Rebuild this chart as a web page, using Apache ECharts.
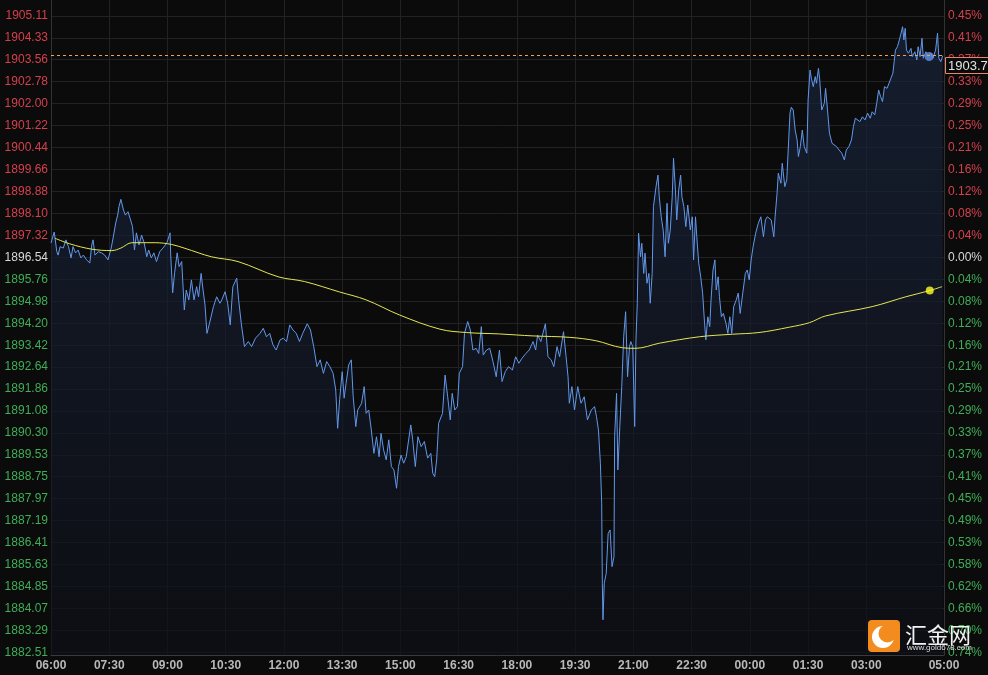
<!DOCTYPE html>
<html><head><meta charset="utf-8">
<script src="https://cdn.jsdelivr.net/npm/echarts@6/dist/echarts.min.js"></script>
<style>html,body{margin:0;padding:0;background:#0b0b0c;}#c{width:988px;height:675px;}</style>
</head><body><div id="c"></div><script>
// ---- data (time = minutes since 06:00) ----
const basePrice = 1896.54;
const lastPrice = 1903.7;
const priceTicks = [1905.11,1904.33,1903.56,1902.78,1902.00,1901.22,1900.44,1899.66,1898.88,1898.10,1897.32,1896.54,1895.76,1894.98,1894.20,1893.42,1892.64,1891.86,1891.08,1890.30,1889.53,1888.75,1887.97,1887.19,1886.41,1885.63,1884.85,1884.07,1883.29,1882.51];
const pctTicks = ['0.45%','0.41%','0.37%','0.33%','0.29%','0.25%','0.21%','0.16%','0.12%','0.08%','0.04%','0.00%','0.04%','0.08%','0.12%','0.16%','0.21%','0.25%','0.29%','0.33%','0.37%','0.41%','0.45%','0.49%','0.53%','0.58%','0.62%','0.66%','0.70%','0.74%'];
const timeTicks = [0,90,180,270,360,450,540,630,720,810,900,990,1080,1170,1260,1380];
const timeLabels = ['06:00','07:30','09:00','10:30','12:00','13:30','15:00','16:30','18:00','19:30','21:00','22:30','00:00','01:30','03:00','05:00'];

const morning = [[0,1897.05],[5,1897.44],[9,1896.74],[11,1896.62],[14,1896.92],[19,1896.87],[23,1897.16],[27,1896.92],[31,1896.52],[34,1896.92],[38,1896.70],[42,1896.80],[46,1896.52],[50,1896.62],[55,1896.45],[60,1896.34],[63,1896.98],[65,1897.16],[68,1896.62],[73,1896.74],[78,1896.70],[83,1896.62],[88,1896.45],[93,1896.87],[96,1897.23],[100,1897.76],[103,1898.04],[105,1898.34],[108,1898.60],[112,1898.22],[115,1898.04],[119,1898.16],[123,1897.87],[126,1897.63],[129,1896.80],[132,1897.41],[136,1896.98],[140,1897.33],[144,1897.05],[148,1896.56],[151,1896.80],[155,1896.52],[159,1896.70],[163,1896.39],[168,1896.74],[173,1896.87],[179,1897.05],[184,1897.41],[185,1896.62],[188,1895.28],[191,1895.99],[195,1896.70],[198,1896.21],[202,1896.39],[206,1894.67],[209,1895.38],[213,1895.03],[217,1895.74],[221,1895.03],[225,1895.50],[228,1895.14],[232,1895.97],[235,1895.38],[238,1894.85],[241,1893.84],[245,1894.20],[251,1894.79],[256,1895.14],[261,1894.91],[264,1895.03],[269,1895.32],[273,1894.91],[277,1894.14],[281,1895.50],[287,1895.80],[290,1895.03],[294,1894.20],[299,1893.37],[305,1893.55],[310,1893.37],[316,1893.67],[323,1893.84],[328,1894.02],[333,1893.72],[338,1893.84],[343,1893.43],[348,1893.25],[354,1893.61],[359,1893.67],[364,1893.55],[369,1894.14],[374,1893.96],[379,1893.84],[384,1893.55]];
const afternoon = [[389,1893.84],[396,1894.18],[401,1893.96],[406,1893.37],[411,1892.66],[416,1892.90],[421,1892.42],[426,1892.84],[431,1892.66],[436,1892.42],[440,1891.83],[443,1890.47],[446,1891.48],[450,1892.48],[453,1891.54],[456,1892.07],[460,1892.72],[464,1892.90],[467,1891.59],[471,1890.53],[474,1891.12],[480,1891.36],[484,1891.95],[487,1891.00],[491,1891.12],[495,1890.41],[499,1889.58],[503,1890.17],[507,1889.46],[510,1890.29],[514,1889.70],[518,1889.35],[522,1890.06],[526,1889.11],[530,1888.99],[534,1888.34],[537,1889.11],[541,1889.52],[545,1889.23],[549,1889.46],[556,1890.59],[559,1890.06],[563,1889.11],[567,1890.17],[572,1889.82],[577,1890.00],[582,1889.41],[587,1889.58],[590,1888.87],[593,1888.75],[596,1889.35],[599,1890.65],[605,1891.00],[609,1892.36],[613,1891.59],[617,1890.77],[620,1891.71],[624,1891.12],[628,1891.24],[631,1892.42],[636,1892.66],[639,1893.84],[644,1894.26],[648,1893.96],[652,1893.25],[657,1893.31],[661,1893.13],[665,1894.08],[668,1893.07],[673,1893.25],[678,1893.31],[683,1892.84],[688,1892.30],[693,1893.25],[697,1892.13],[702,1892.48],[707,1892.66],[713,1892.54],[718,1893.01],[723,1892.78],[728,1892.96],[734,1893.13],[739,1893.25],[745,1893.55],[749,1893.25],[752,1893.78],[757,1893.55],[764,1894.18],[768,1893.01],[773,1892.90],[777,1892.66],[782,1893.37],[786,1893.01]];
const evening = [[792,1893.90],[796,1893.01],[799,1892.30],[801,1891.36],[805,1891.95],[809,1891.12],[814,1891.95],[819,1891.36],[824,1891.59],[829,1890.77],[835,1891.12],[840,1891.24],[843,1890.88],[846,1890.41],[849,1889.23],[851,1887.81],[852,1884.97],[853,1883.67],[855,1884.97],[858,1885.32],[861,1886.74],[864,1886.86],[867,1885.56],[870,1885.91],[871,1890.17],[874,1891.71],[876,1888.99],[879,1890.53],[882,1891.95],[885,1893.72],[888,1894.61],[891,1892.30],[894,1893.37],[896,1893.55],[899,1893.37],[902,1890.53],[904,1893.61],[906,1894.91],[908,1897.40],[911,1896.56],[913,1897.04],[916,1895.97],[918,1896.69],[921,1895.62],[924,1895.97],[926,1894.91],[929,1895.97],[931,1898.34],[935,1899.05],[938,1899.46],[940,1898.69],[943,1897.98],[946,1897.51],[949,1896.56],[952,1898.46],[954,1897.04],[957,1897.51],[960,1898.69],[962,1900.06],[965,1898.93],[967,1897.87],[970,1898.93],[973,1899.46],[975,1898.69],[978,1898.34],[981,1897.63],[984,1898.40],[988,1897.51],[991,1897.98],[993,1896.45],[996,1897.98],[998,1897.27],[1001,1896.33],[1004,1895.85],[1007,1895.27],[1010,1894.20],[1012,1893.61],[1015,1894.43],[1018,1894.08],[1020,1895.03],[1023,1896.09],[1026,1896.45],[1028,1895.38],[1031,1895.85],[1033,1895.14],[1036,1894.43],[1039,1894.55],[1043,1894.20],[1046,1893.84],[1049,1894.43],[1052,1893.84],[1055,1894.79],[1059,1895.03],[1062,1895.27],[1065,1894.55]];
const night = [[1069,1895.27],[1073,1895.97],[1076,1896.09],[1079,1895.74],[1082,1896.45],[1085,1896.92],[1089,1897.40],[1093,1897.75],[1097,1897.98],[1101,1897.27],[1104,1897.87],[1107,1897.98],[1113,1897.87],[1117,1897.27],[1119,1897.98],[1122,1898.82],[1124,1899.53],[1128,1899.17],[1130,1899.88],[1134,1899.05],[1137,1899.29],[1140,1900.71],[1142,1901.66],[1144,1901.87],[1147,1901.77],[1150,1901.06],[1153,1900.71],[1155,1900.12],[1158,1900.47],[1161,1901.06],[1164,1900.47],[1168,1900.24],[1170,1902.13],[1173,1903.19],[1175,1902.90],[1178,1902.60],[1181,1902.96],[1183,1902.72],[1186,1903.25],[1188,1902.84],[1191,1901.77],[1195,1902.01],[1197,1902.54],[1200,1901.77],[1203,1900.95],[1207,1900.59],[1210,1900.65],[1214,1900.47],[1218,1900.35],[1222,1900.24],[1226,1900.00],[1229,1900.35],[1233,1900.47],[1237,1900.71],[1240,1901.18],[1243,1901.48],[1246,1901.53],[1250,1901.36],[1254,1901.53],[1258,1901.42],[1262,1901.66],[1266,1901.48],[1269,1901.71],[1273,1901.60],[1276,1902.01],[1279,1902.48],[1282,1902.25],[1285,1902.07],[1288,1902.60],[1292,1902.54],[1295,1902.48],[1298,1902.90],[1301,1903.08],[1303,1903.49],[1305,1903.90],[1308,1904.02],[1311,1904.26],[1313,1904.44],[1316,1904.73],[1318,1904.26],[1320,1904.67],[1322,1903.90],[1325,1903.79],[1329,1903.96],[1331,1903.67],[1335,1903.84],[1338,1903.55],[1340,1904.02],[1343,1903.67],[1346,1904.32],[1348,1903.61],[1352,1903.84],[1355,1903.67],[1360,1903.79],[1363,1903.61],[1367,1903.90],[1370,1904.50],[1372,1903.61],[1375,1903.49],[1378,1903.70]];
const avgLine = [[6,1897.22],[29,1897.02],[63,1896.83],[94,1896.78],[108,1896.87],[125,1897.06],[161,1897.06],[186,1897.00],[207,1896.86],[248,1896.56],[289,1896.39],[351,1895.85],[392,1895.68],[446,1895.31],[487,1895.03],[539,1894.49],[601,1893.99],[642,1893.87],[693,1893.82],[745,1893.75],[801,1893.70],[842,1893.58],[883,1893.33],[904,1893.31],[940,1893.49],[1002,1893.72],[1053,1893.81],[1094,1893.87],[1141,1894.06],[1172,1894.22],[1197,1894.46],[1269,1894.79],[1321,1895.14],[1358,1895.36],[1377,1895.50]];
const priceDot = [[1357,1903.67]];
const avgDot = [[1358,1895.36]];

const priceLine = morning.concat(afternoon, evening, night);

// ---- chart ----
const FONT = 'Arial, "Liberation Sans", sans-serif';
const RED = '#d4404c', GREEN = '#3fae57', NEUTRAL = '#d8d8d8';
function tickColor(v){ if (v > basePrice + 0.004) return RED; if (v < basePrice - 0.004) return GREEN; return NEUTRAL; }
function pctFor(v){ const i = priceTicks.findIndex(t => Math.abs(t - v) < 0.001); return i >= 0 ? pctTicks[i] : ''; }
const Y_MIN = 1882.42, Y_MAX = 1905.678;

const chart = echarts.init(document.getElementById('c'), null, {renderer:'canvas'});
const yCommon = {
  type:'value', min:Y_MIN, max:Y_MAX, scale:true,
  axisTick:{show:false, customValues: priceTicks},
  axisLine:{show:true, lineStyle:{color:'#333336'}}
};
chart.setOption({
  backgroundColor:'#0b0b0c',
  animation:false,
  grid:{left:51, right:44, top:0, bottom:20, containLabel:false},
  xAxis:{
    type:'value', min:0, max:1380,
    axisLine:{show:true, lineStyle:{color:'#3a3a3d'}},
    axisTick:{show:false, customValues: timeTicks},
    axisLabel:{customValues: timeTicks, formatter: v => timeLabels[timeTicks.indexOf(v)], color:'#b9b9b9', fontWeight:'bold', fontSize:12, fontFamily:FONT, margin:5},
    splitLine:{show:true, lineStyle:{color:'#222225', width:1}}
  },
  yAxis:[
    Object.assign({}, yCommon, {
      position:'left',
      axisLabel:{customValues: priceTicks, formatter: v => v.toFixed(2), color: v => tickColor(v), fontSize:12, fontFamily:FONT, margin:3},
      splitLine:{show:true, lineStyle:{color:'#222225', width:1}}
    }),
    Object.assign({}, yCommon, {
      position:'right',
      axisLabel:{customValues: priceTicks, formatter: v => pctFor(v), color: v => tickColor(v), fontSize:12, fontFamily:FONT, margin:4},
      splitLine:{show:false}
    })
  ],
  series:[
    {
      type:'line', data: priceLine, showSymbol:false, z:2,
      lineStyle:{color:'#6297ea', width:1}, itemStyle:{color:'#6297ea'},
      areaStyle:{origin:'start', color:new echarts.graphic.LinearGradient(0,0,0,1,[{offset:0,color:'#19253d'},{offset:1,color:'#0d0f16'}])},
      markLine:{silent:true, symbol:['none','none'], animation:false,
        data:[{yAxis:lastPrice}],
        lineStyle:{type:[3,3], color:'#f0a05a', width:1, opacity:1},
        label:{show:false}, emphasis:{disabled:true}}
    },
    {
      type:'line', data: avgLine, showSymbol:false, smooth:0.35, z:3,
      lineStyle:{color:'#e6e650', width:1}, itemStyle:{color:'#e6e650'}
    },
    { type:'scatter', data: priceDot, symbolSize:9, z:4, itemStyle:{color:'#5f93e8'} },
    { type:'scatter', data: avgDot, symbolSize:8, z:4, itemStyle:{color:'#ffff20'} }
  ]
});

const yLast = chart.convertToPixel({yAxisIndex:0}, lastPrice);
chart.setOption({
  graphic:[
    {type:'rect', shape:{x:945.5, y:Math.round(yLast)+1.5, width:48, height:16}, style:{fill:'#0b0b0c', stroke:'#e8866a', lineWidth:1}, z:100},
    {type:'text', x:948, y:Math.round(yLast)+10, style:{text:String(lastPrice), fill:'#e4e4e4', font:'13px ' + FONT, verticalAlign:'middle'}, z:101},
    {type:'rect', shape:{x:868, y:620, width:32, height:32, r:4}, style:{fill:'#f28c1e'}, z:100},
    {type:'circle', shape:{cx:883, cy:637, r:11}, style:{fill:'#ffffff'}, z:101},
    {type:'circle', shape:{cx:887.5, cy:633.5, r:9}, style:{fill:'#f28c1e'}, z:102},
    {type:'text', x:905, y:635, style:{text:'汇金网', fill:'#f2f2f2', font:'22px "Noto Sans CJK SC"', verticalAlign:'middle'}, z:100},
    {type:'text', x:907, y:648, style:{text:'www.gold678.com', fill:'#dddddd', font:'8px ' + FONT, verticalAlign:'middle'}, z:100}
  ]
});
</script></body></html>
